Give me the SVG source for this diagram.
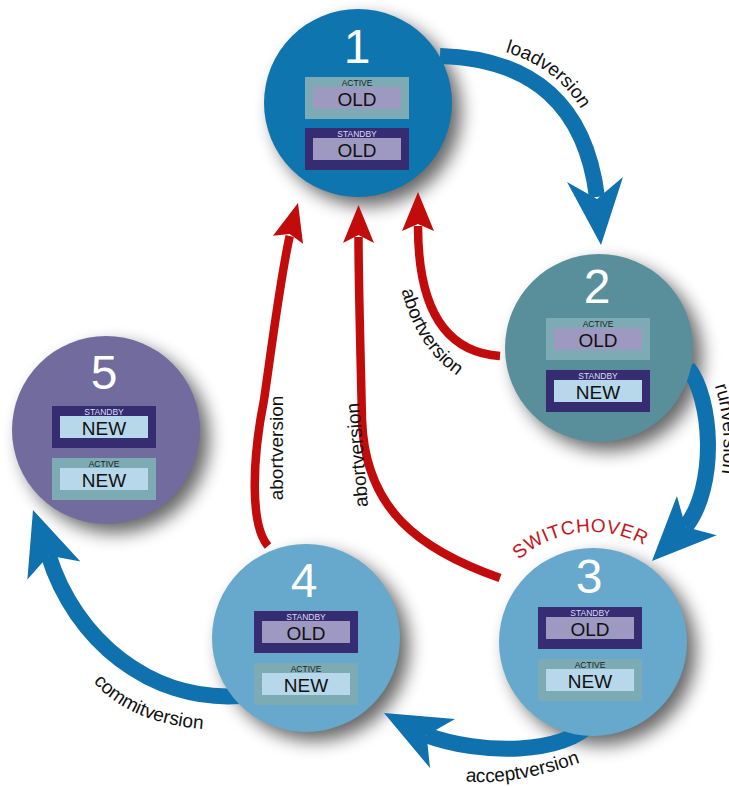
<svg xmlns="http://www.w3.org/2000/svg" width="729" height="787" viewBox="0 0 729 787">
<style>
text { font-family: "Liberation Sans", Arial, sans-serif; }
.lbl { font-size: 19px; fill: #111; }
.num { font-size: 48px; fill: #fff; text-anchor: middle; }
.tag { font-size: 8.5px; text-anchor: middle; }
.tA { fill: #1c1c1c; }
.tS { fill: #dcdcf0; }
.val { font-size: 19px; text-anchor: middle; fill: #111; }
.ab { fill: #7dabb4; }
.sb { fill: #352c72; }
.old { fill: #9e99c0; }
.new { fill: #b7d8ea; }
.blue { fill: none; stroke: #0f71ad; stroke-width: 16; }
.bhead { fill: #0f71ad; }
.red { fill: none; stroke: #c20b0b; stroke-width: 8.5; }
.rhead { fill: #c20b0b; }
.shadow { fill: #000; opacity: 0.6; filter: url(#blur); }
</style>
<defs>
<filter id="blur" x="-40%" y="-40%" width="180%" height="180%"><feGaussianBlur stdDeviation="9"/></filter>
<path id="pLoad" d="M 450 44 Q 590 48 604 185"/>
<path id="pRun" d="M 702 361 C 728 393 735 488 698 534"/>
<path id="pSwitch" d="M 482 642 A 110 110 0 0 1 702 642"/>
<path id="pAccept" d="M 440 776 Q 500 795 600 755"/>
<path id="pCommit" d="M 70 640 Q 100 730 230 730"/>
<path id="pAbortA" d="M 396 258 Q 407 360 486 391"/>
</defs>
<rect width="729" height="787" fill="#fff"/>

<g id="shadows">
<circle class="shadow" cx="367" cy="112" r="94"/>
<circle class="shadow" cx="608" cy="357" r="94"/>
<circle class="shadow" cx="602" cy="651" r="94"/>
<circle class="shadow" cx="315" cy="647" r="94"/>
<circle class="shadow" cx="115" cy="439" r="94"/>
</g>

<g id="connectors">
<path class="blue" d="M 440 56 Q 580 60 597 197"/>
<polygon class="bhead" points="601,245 567,182 597,199 623,177"/>
<path class="blue" d="M 688 368 C 712 398 718 485 685.6 526.9"/>
<polygon class="bhead" points="652,561 676.9,496 685.6,526.9 716.7,535.2"/>
<path class="blue" d="M 592 722 C 565 755 480 755 426.6 735.2"/>
<polygon class="bhead" points="384,713 455,719 426.6,735.2 430,768"/>
<path class="blue" d="M 240 696 C 150 702 75 640 48.6 555.4"/>
<polygon class="bhead" points="33,510 80.4,561.4 48.6,555.4 27.4,579.6"/>
<path class="red" d="M 500 356 C 440 352 418 300 418 226"/>
<polygon class="rhead" points="418,192 434,231 418,224 402,231"/>
<path class="red" d="M 500 578 C 420 550 365 510 362 420 C 360 330 358.5 280 358.5 237"/>
<polygon class="rhead" points="358.5,205 374,243 358.5,235 343,243"/>
<path class="red" d="M 268 546 C 250 525 252 460 264 400 C 272 345 280 280 289.7 236"/>
<polygon class="rhead" points="298,203 303,243.7 289.7,234 273,235.7"/>

<text class="lbl"><textPath href="#pLoad" startOffset="56">loadversion</textPath></text>
<text class="lbl"><textPath href="#pRun" startOffset="28">runversion</textPath></text>
<text class="lbl"><textPath href="#pAccept" startOffset="26">acceptversion</textPath></text>
<text class="lbl"><textPath href="#pCommit" startOffset="48">commitversion</textPath></text>
<text class="lbl" text-anchor="middle"><textPath href="#pAbortA" startOffset="50%">abortversion</textPath></text>
<text class="lbl" text-anchor="middle" transform="translate(283,448) rotate(-90)">abortversion</text>
<text class="lbl" text-anchor="middle" transform="translate(363.5,454.5) rotate(-95)">abortversion</text>
<text class="lbl" style="fill:#c4161c;letter-spacing:0.6px" text-anchor="middle"><textPath href="#pSwitch" startOffset="160">SWITCHOVER</textPath></text>
</g>

<g id="node1">
<circle cx="358" cy="103" r="94" fill="#0f75af"/>
<text class="num" x="357" y="63">1</text>
<rect class="ab" x="305" y="77" width="104" height="42"/>
<rect class="old" x="313" y="87" width="88" height="22"/>
<text class="tag tA" x="357" y="85.5">ACTIVE</text>
<text class="val" x="357" y="105.5">OLD</text>
<rect class="sb" x="305" y="128" width="104" height="42"/>
<rect class="old" x="313" y="138" width="88" height="22"/>
<text class="tag tS" x="357" y="136.5">STANDBY</text>
<text class="val" x="357" y="156.5">OLD</text>
</g>

<g id="node2">
<circle cx="599" cy="348" r="94" fill="#588f9b"/>
<text class="num" x="597" y="303">2</text>
<rect class="ab" x="546" y="318" width="104" height="42"/>
<rect class="old" x="554" y="328" width="88" height="22"/>
<text class="tag tA" x="598" y="326.5">ACTIVE</text>
<text class="val" x="598" y="346.5">OLD</text>
<rect class="sb" x="546" y="370" width="104" height="42"/>
<rect class="new" x="554" y="380" width="88" height="22"/>
<text class="tag tS" x="598" y="378.5">STANDBY</text>
<text class="val" x="598" y="398.5">NEW</text>
</g>

<g id="node3">
<circle cx="593" cy="642" r="94" fill="#66a9cd"/>
<text class="num" x="589" y="593">3</text>
<rect class="sb" x="538" y="607" width="104" height="42"/>
<rect class="old" x="546" y="617" width="88" height="22"/>
<text class="tag tS" x="590" y="615.5">STANDBY</text>
<text class="val" x="590" y="635.5">OLD</text>
<rect class="ab" x="538" y="659" width="104" height="42"/>
<rect class="new" x="546" y="669" width="88" height="22"/>
<text class="tag tA" x="590" y="667.5">ACTIVE</text>
<text class="val" x="590" y="687.5">NEW</text>
</g>

<g id="node4">
<circle cx="306" cy="638" r="94" fill="#66a9cd"/>
<text class="num" x="304" y="597">4</text>
<rect class="sb" x="254" y="611" width="104" height="42"/>
<rect class="old" x="262" y="621" width="88" height="22"/>
<text class="tag tS" x="306" y="619.5">STANDBY</text>
<text class="val" x="306" y="639.5">OLD</text>
<rect class="ab" x="254" y="663" width="104" height="42"/>
<rect class="new" x="262" y="673" width="88" height="22"/>
<text class="tag tA" x="306" y="671.5">ACTIVE</text>
<text class="val" x="306" y="691.5">NEW</text>
</g>

<g id="node5">
<circle cx="106" cy="430" r="94" fill="#726b9e"/>
<text class="num" x="104" y="389">5</text>
<rect class="sb" x="52" y="406" width="104" height="42"/>
<rect class="new" x="60" y="416" width="88" height="22"/>
<text class="tag tS" x="104" y="414.5">STANDBY</text>
<text class="val" x="104" y="434.5">NEW</text>
<rect class="ab" x="52" y="458" width="104" height="42"/>
<rect class="new" x="60" y="468" width="88" height="22"/>
<text class="tag tA" x="104" y="466.5">ACTIVE</text>
<text class="val" x="104" y="486.5">NEW</text>
</g>
</svg>
